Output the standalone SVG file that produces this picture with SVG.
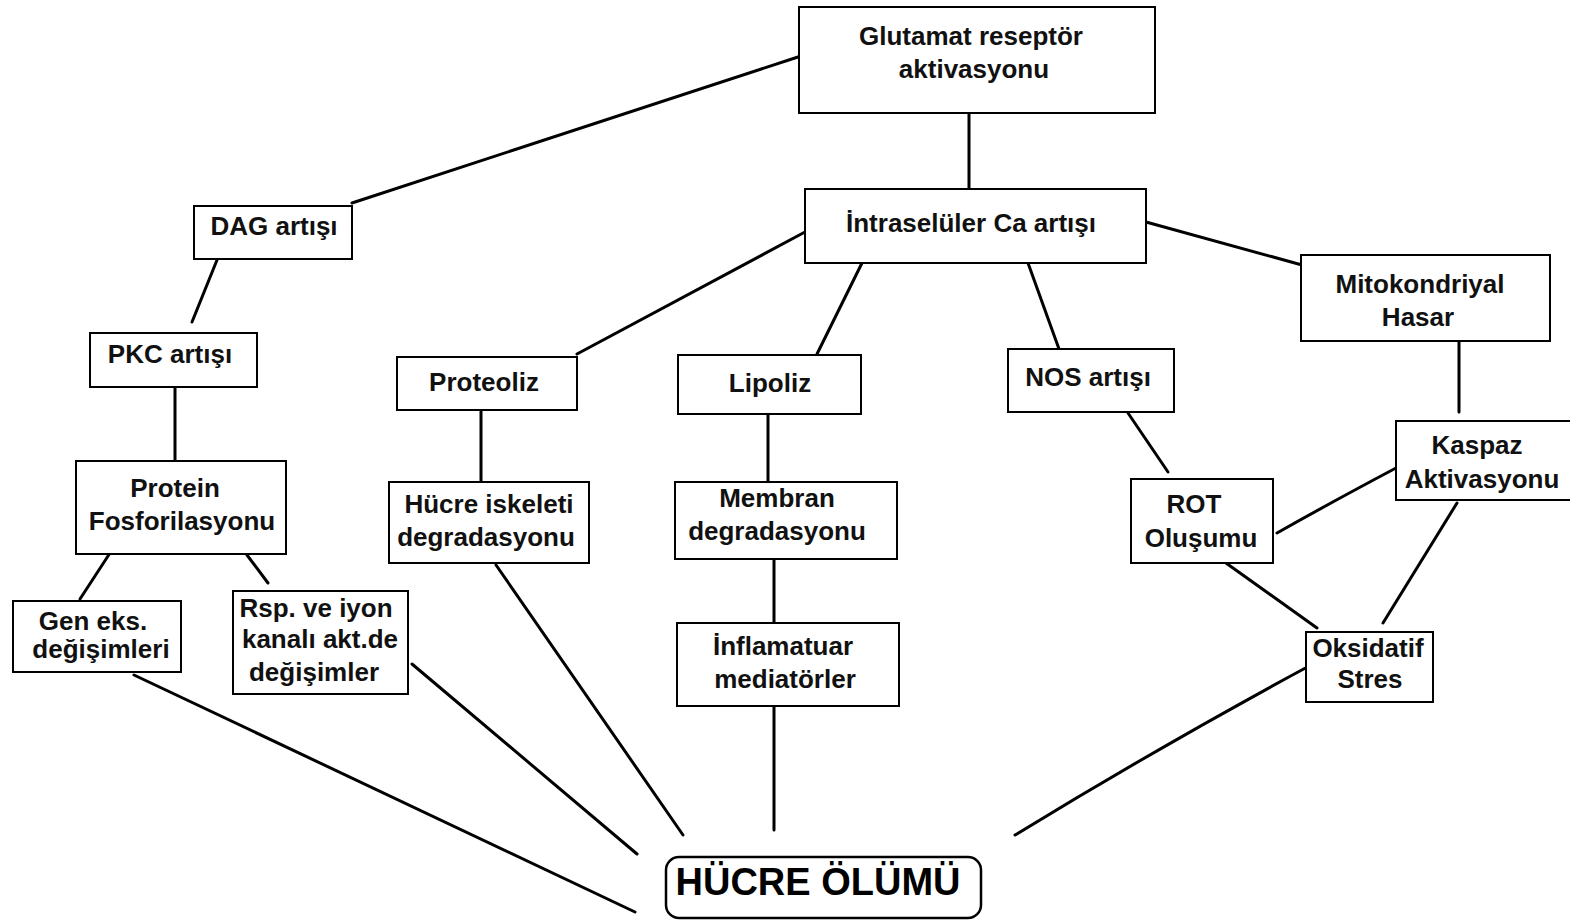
<svg xmlns="http://www.w3.org/2000/svg" width="1570" height="922" viewBox="0 0 1570 922">
<style>
.box{fill:#fff;stroke:#000;stroke-width:2}
.t{font-family:"Liberation Sans",Arial,sans-serif;font-weight:bold;font-size:26px;fill:#111;text-anchor:middle}
.big{font-family:"Liberation Sans",Arial,sans-serif;font-weight:bold;font-size:38px;fill:#000;text-anchor:middle}
.c line,.c path{stroke:#000;stroke-width:3;fill:none;stroke-linecap:round}
</style>
<rect width="1570" height="922" fill="#fff"/>
<g class="c" id="connectors">
<line x1="798" y1="57" x2="352" y2="203"/>
<line x1="969" y1="113" x2="969" y2="190"/>
<line x1="217" y1="260" x2="192" y2="322"/>
<line x1="175" y1="388" x2="175" y2="461"/>
<line x1="805" y1="232" x2="577" y2="354"/>
<line x1="862" y1="263" x2="817" y2="354"/>
<line x1="1028" y1="263" x2="1059" y2="349"/>
<line x1="1146" y1="222" x2="1302" y2="265"/>
<line x1="1459" y1="341" x2="1459" y2="412"/>
<line x1="481" y1="410" x2="481" y2="481"/>
<line x1="768" y1="414" x2="768" y2="482"/>
<line x1="774" y1="559" x2="774" y2="623"/>
<line x1="1128" y1="413" x2="1168" y2="472"/>
<path d="M1277,533 Q1330,503 1396,468"/>
<line x1="1457" y1="503" x2="1383" y2="623"/>
<line x1="1226" y1="563" x2="1317" y2="628"/>
<line x1="110" y1="553" x2="80" y2="599"/>
<line x1="247" y1="555" x2="268" y2="583"/>
<line x1="134" y1="675" x2="635" y2="912"/>
<line x1="412" y1="664" x2="637" y2="854"/>
<line x1="496" y1="565" x2="683" y2="835"/>
<line x1="774" y1="706" x2="774" y2="830"/>
<path d="M1311,665 Q1166,743 1015,835"/>
</g>
<g id="n-glutamat"><rect class="box" x="799" y="7" width="356" height="106"/>
<text class="t" x="971" y="45">Glutamat reseptör</text><text class="t" x="974" y="78">aktivasyonu</text></g>
<g id="n-dag"><rect class="box" x="194" y="206" width="158" height="53"/>
<text class="t" x="274" y="235">DAG artışı</text></g>
<g id="n-ca"><rect class="box" x="805" y="189" width="341" height="74"/>
<text class="t" x="971" y="232">İntraselüler Ca artışı</text></g>
<g id="n-mito"><rect class="box" x="1301" y="255" width="249" height="86"/>
<text class="t" x="1420" y="293">Mitokondriyal</text><text class="t" x="1418" y="326">Hasar</text></g>
<g id="n-pkc"><rect class="box" x="90" y="333" width="167" height="54"/>
<text class="t" x="170" y="363">PKC artışı</text></g>
<g id="n-proteoliz"><rect class="box" x="397" y="357" width="180" height="53"/>
<text class="t" x="484" y="391">Proteoliz</text></g>
<g id="n-lipoliz"><rect class="box" x="678" y="355" width="183" height="59"/>
<text class="t" x="770" y="392">Lipoliz</text></g>
<g id="n-nos"><rect class="box" x="1008" y="349" width="166" height="63"/>
<text class="t" x="1088" y="386">NOS artışı</text></g>
<g id="n-kaspaz"><rect class="box" x="1396" y="421" width="180" height="79"/>
<text class="t" x="1477" y="454">Kaspaz</text><text class="t" x="1482" y="488">Aktivasyonu</text></g>
<g id="n-protein"><rect class="box" x="76" y="461" width="210" height="93"/>
<text class="t" x="175" y="497">Protein</text><text class="t" x="182" y="530">Fosforilasyonu</text></g>
<g id="n-hucre-iskeleti"><rect class="box" x="389" y="482" width="200" height="81"/>
<text class="t" x="489" y="513">Hücre iskeleti</text><text class="t" x="486" y="546">degradasyonu</text></g>
<g id="n-membran"><rect class="box" x="675" y="482" width="222" height="77"/>
<text class="t" x="777" y="507">Membran</text><text class="t" x="777" y="540">degradasyonu</text></g>
<g id="n-rot"><rect class="box" x="1131" y="479" width="142" height="84"/>
<text class="t" x="1194" y="513">ROT</text><text class="t" x="1201" y="547">Oluşumu</text></g>
<g id="n-gen"><rect class="box" x="13" y="601" width="168" height="71"/>
<text class="t" x="93" y="630">Gen eks.</text><text class="t" x="101" y="658">değişimleri</text></g>
<g id="n-rsp"><rect class="box" x="233" y="591" width="175" height="103"/>
<text class="t" x="316" y="617">Rsp. ve iyon</text><text class="t" x="320" y="648">kanalı akt.de</text><text class="t" x="314" y="681">değişimler</text></g>
<g id="n-inflamatuar"><rect class="box" x="677" y="623" width="222" height="83"/>
<text class="t" x="783" y="655">İnflamatuar</text><text class="t" x="785" y="688">mediatörler</text></g>
<g id="n-oksidatif"><rect class="box" x="1306" y="632" width="127" height="70"/>
<text class="t" x="1368" y="657">Oksidatif</text><text class="t" x="1370" y="688">Stres</text></g>
<g id="n-hucre-olumu"><rect class="box" x="666" y="857" width="315" height="61" rx="13" ry="13" style="stroke-width:2.5"/>
<text class="big" x="818" y="895">HÜCRE ÖLÜMÜ</text></g>
</svg>
